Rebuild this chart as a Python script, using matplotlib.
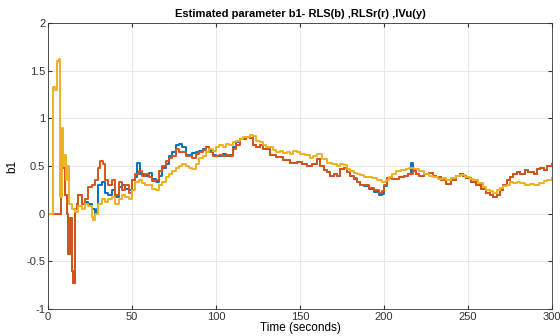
import matplotlib
matplotlib.use("Agg")
import matplotlib.pyplot as plt

# Estimated b1 for each method (time in s)
t_rls = [0, 7.5, 9, 10, 11.3, 12, 13, 14, 15, 16, 17, 18, 20, 22, 24, 26, 28, 29, 30, 32,
         34, 36, 38, 40, 42, 44, 46, 48, 50, 52, 53, 55, 57, 60, 62, 64, 66, 68, 70, 72,
         74, 76, 78, 80, 82, 84, 86, 88, 90, 92, 94, 96, 98, 100, 102, 104, 106, 108, 110, 112,
         114, 116, 118, 120, 122, 124, 126, 128, 132, 136, 140, 144, 148, 151, 154, 157, 160, 162, 164, 166,
         168, 170, 172, 174, 176, 178, 180, 182, 184, 186, 188, 191, 194, 197, 199, 200, 202, 205, 209, 212,
         214, 216, 217, 219, 221, 224, 227, 229, 231, 234, 237, 240, 243, 245, 247, 249, 252, 255, 258, 261,
         263, 265, 267, 269, 271, 273, 275, 277, 279, 281, 284, 286, 289, 291, 293, 295, 297, 300]
b1_rls = [0, 0.55, 0.48, 0.2, 0.0, -0.42, -0.05, -0.6, -0.73, 0.05, 0.1, 0.2, 0.1, 0.12, 0.1, 0.05, 0.0, 0.05, 0.3, 0.33,
          0.22, 0.2, 0.25, 0.18, 0.28, 0.3, 0.26, 0.25, 0.35, 0.38, 0.53, 0.42, 0.4, 0.43, 0.36, 0.33, 0.4, 0.48, 0.52, 0.6,
          0.65, 0.72, 0.73, 0.7, 0.62, 0.62, 0.64, 0.65, 0.66, 0.68, 0.7, 0.66, 0.62, 0.6, 0.61, 0.63, 0.6, 0.62, 0.7, 0.75,
          0.78, 0.78, 0.8, 0.79, 0.72, 0.7, 0.72, 0.68, 0.62, 0.59, 0.56, 0.53, 0.54, 0.52, 0.5, 0.52, 0.57, 0.5, 0.46, 0.44,
          0.4, 0.42, 0.4, 0.47, 0.48, 0.44, 0.4, 0.36, 0.33, 0.3, 0.29, 0.26, 0.23, 0.2, 0.21, 0.29, 0.37, 0.36, 0.38, 0.4,
          0.42, 0.53, 0.45, 0.42, 0.4, 0.42, 0.43, 0.4, 0.38, 0.35, 0.31, 0.35, 0.4, 0.42, 0.4, 0.37, 0.33, 0.3, 0.26, 0.22,
          0.2, 0.17, 0.2, 0.25, 0.3, 0.35, 0.38, 0.42, 0.44, 0.42, 0.46, 0.44, 0.42, 0.47, 0.48, 0.46, 0.5, 0.52]

t_rlsr = [0, 7.5, 9, 10, 11.3, 12, 13, 14, 15, 16, 17, 18, 20, 22, 24, 26, 28, 30, 31, 33,
          34, 36, 38, 40, 42, 44, 46, 48, 50, 52, 54, 56, 58, 60, 62, 64, 66, 68, 70, 72,
          74, 76, 78, 80, 82, 84, 86, 88, 90, 92, 94, 96, 98, 100, 102, 104, 106, 108, 110, 112,
          114, 116, 118, 120, 122, 124, 126, 128, 132, 136, 140, 144, 148, 151, 154, 157, 160, 162, 164, 166,
          168, 170, 172, 174, 176, 178, 180, 182, 184, 186, 188, 191, 194, 197, 199, 200, 202, 205, 209, 212,
          214, 217, 219, 221, 224, 227, 229, 231, 234, 237, 240, 243, 245, 247, 249, 252, 255, 258, 261,
          263, 265, 267, 269, 271, 273, 275, 277, 279, 281, 284, 286, 289, 291, 293, 295, 297, 300]
b1_rlsr = [0, 0.55, 0.48, 0.2, 0.0, -0.42, -0.05, -0.6, -0.73, 0.05, 0.1, 0.2, 0.1, 0.15, 0.28, 0.3, 0.35, 0.48, 0.55, 0.52,
           0.35, 0.3, 0.35, 0.2, 0.33, 0.25, 0.3, 0.22, 0.35, 0.42, 0.45, 0.4, 0.42, 0.38, 0.34, 0.35, 0.45, 0.5, 0.55, 0.58,
           0.6, 0.68, 0.65, 0.65, 0.6, 0.6, 0.58, 0.63, 0.65, 0.67, 0.7, 0.65, 0.6, 0.6, 0.62, 0.6, 0.62, 0.6, 0.68, 0.72,
           0.78, 0.78, 0.8, 0.79, 0.72, 0.7, 0.72, 0.68, 0.62, 0.59, 0.56, 0.53, 0.54, 0.52, 0.5, 0.52, 0.57, 0.5, 0.46, 0.44,
           0.4, 0.42, 0.4, 0.47, 0.48, 0.44, 0.4, 0.37, 0.33, 0.3, 0.3, 0.27, 0.25, 0.22, 0.24, 0.3, 0.37, 0.36, 0.38, 0.4,
           0.42, 0.45, 0.42, 0.4, 0.42, 0.43, 0.4, 0.38, 0.35, 0.31, 0.35, 0.4, 0.42, 0.4, 0.37, 0.33, 0.3, 0.26, 0.22,
           0.2, 0.17, 0.2, 0.25, 0.3, 0.35, 0.38, 0.42, 0.44, 0.42, 0.46, 0.44, 0.42, 0.47, 0.48, 0.46, 0.5, 0.52]

t_ivu = [0, 2.8, 4, 5.5, 6.5, 7.2, 8.2, 9, 9.8, 10.6, 11.5, 12.5, 14, 16, 18, 20, 22, 24, 26, 27,
         28, 30, 32, 34, 36, 38, 40, 42, 44, 46, 48, 50, 52, 54, 56, 58, 60, 62, 64, 66,
         68, 70, 72, 74, 76, 78, 80, 82, 84, 86, 88, 90, 92, 94, 96, 98, 100, 102, 104, 106,
         108, 110, 112, 114, 116, 118, 120, 122, 124, 126, 128, 130, 132, 134, 136, 138, 140, 142, 144, 146,
         148, 150, 153, 156, 158, 160, 163, 166, 169, 172, 174, 176, 178, 180, 182, 184, 186, 188, 190, 193,
         196, 199, 201, 203, 205, 207, 210, 213, 215, 218, 221, 224, 227, 229, 232, 235, 237, 240, 243, 245,
         248, 251, 253, 256, 259, 261, 263, 265, 267, 269, 271, 273, 275, 277, 279, 281, 284, 287, 289, 292,
         295, 297, 300]
b1_ivu = [0, 1.33, 1.3, 1.6, 1.62, 0.18, 0.9, 0.5, 0.62, 0.35, 0.5, 0.1, 0.05, 0.02, 0.08, 0.05, 0.1, 0.08, -0.03, -0.07,
          0.0, 0.1, 0.15, 0.12, 0.15, 0.18, 0.1, 0.15, 0.2, 0.17, 0.15, 0.25, 0.33, 0.35, 0.32, 0.3, 0.3, 0.26, 0.25, 0.3,
          0.33, 0.38, 0.42, 0.45, 0.48, 0.5, 0.52, 0.5, 0.48, 0.47, 0.52, 0.58, 0.6, 0.65, 0.68, 0.66, 0.7, 0.72, 0.7, 0.73,
          0.72, 0.75, 0.76, 0.78, 0.8, 0.8, 0.83, 0.82, 0.76, 0.75, 0.72, 0.7, 0.7, 0.67, 0.65, 0.66, 0.64, 0.65, 0.63, 0.66,
          0.65, 0.63, 0.62, 0.58, 0.6, 0.63, 0.57, 0.53, 0.52, 0.5, 0.52, 0.51, 0.47, 0.45, 0.43, 0.42, 0.41, 0.38, 0.38, 0.37,
          0.35, 0.33, 0.35, 0.38, 0.42, 0.45, 0.46, 0.47, 0.48, 0.47, 0.45, 0.42, 0.4, 0.38, 0.36, 0.37, 0.35, 0.37, 0.4, 0.41,
          0.38, 0.36, 0.35, 0.32, 0.28, 0.25, 0.24, 0.22, 0.25, 0.27, 0.29, 0.3, 0.33, 0.32, 0.33, 0.32, 0.3, 0.31, 0.3, 0.32,
          0.34, 0.35, 0.37]

x_ticks = [0, 50, 100, 150, 200, 250, 300]
y_ticks = [-1, -0.5, 0, 0.5, 1, 1.5, 2]
y_tick_labels = ["-1", "-0.5", "0", "0.5", "1", "1.5", "2"]

plt.rcParams["font.family"] = ["Liberation Sans", "DejaVu Sans"]

fig = plt.figure(figsize=(5.6, 3.36), dpi=100)
ax = fig.add_axes([0.0857, 0.0804, 0.9, 0.851])

# MATLAB default colour order
ax.plot(t_rls, b1_rls, color="#0072BD", lw=1.4, drawstyle="steps-post")
ax.plot(t_rlsr, b1_rlsr, color="#D95319", lw=1.4, drawstyle="steps-post")
ax.plot(t_ivu, b1_ivu, color="#EDB120", lw=1.4, drawstyle="steps-post")

ax.set_xlim(0, 300)
ax.set_ylim(-1, 2)
ax.set_xticks(x_ticks)
ax.set_yticks(y_ticks)
ax.set_yticklabels(y_tick_labels)
ax.grid(True, color="#e8e8e8", lw=0.7)
ax.set_axisbelow(True)
ax.tick_params(direction="in", length=3, labelsize=8, colors="#333333",
               top=True, right=True, pad=2)
for s in ax.spines.values():
    s.set_color("#333333")
    s.set_linewidth(0.6)

ax.set_title("Estimated parameter b1- RLS(b) ,RLSr(r) ,IVu(y)", fontsize=8,
             fontweight="bold", pad=4)
ax.set_xlabel("Time (seconds)", fontsize=8.5, labelpad=0)
ax.set_ylabel("b1", fontsize=8.5, labelpad=6)

fig.savefig("out.png", dpi=100)
